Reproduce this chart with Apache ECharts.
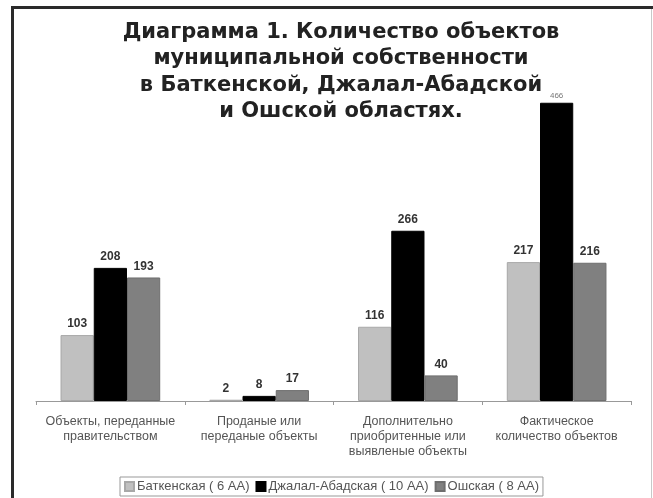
<!DOCTYPE html>
<html>
<head>
<meta charset="utf-8">
<script src="https://cdn.jsdelivr.net/npm/echarts@6/dist/echarts.min.js"></script>
<style>html,body{margin:0;padding:0;background:#fff;}#c{width:653px;height:498px;}</style>
</head>
<body>
<div id="c"></div>
<script>
var titleText = "Диаграмма 1. Количество объектов\nмуниципальной собственности\nв Баткенской, Джалал-Абадской\nи Ошской областях.";
var categories = [
  "Объекты, переданные\nправительством",
  "Проданые или\nпереданые объекты",
  "Дополнительно\nприобритенные или\nвыявленые объекты",
  "Фактическое\nколичество объектов"
];
var seriesNames = ["Баткенская ( 6 АА)", "Джалал-Абадская ( 10 АА)", "Ошская ( 8 АА)"];
var batken = [103, 2, 116, 217];
var jalalabad = [208, 8, 266, 466];
var osh = [193, 17, 40, 216];
var colors = ["#c0c0c0", "#000000", "#808080"];
var borders = ["#a8a8a8", "#000000", "#6e6e6e"];

function mkData(vals) {
  return vals.map(function (v) {
    if (v >= 400) {
      return { value: v, label: { fontSize: 8, fontWeight: 'normal', color: '#777', distance: 3 } };
    }
    return v;
  });
}
var allSeries = [batken, jalalabad, osh].map(function (vals, i) {
  return {
    name: seriesNames[i],
    type: 'bar',
    data: mkData(vals),
    barGap: '0%',
    barCategoryGap: '33%',
    itemStyle: { color: colors[i], borderColor: borders[i], borderWidth: 1 },
    label: {
      show: true, position: 'top', distance: 5,
      fontFamily: 'Liberation Sans, Arial', fontSize: 12, fontWeight: 'bold', color: '#333'
    }
  };
});

var chart = echarts.init(document.getElementById('c'), null, { renderer: 'canvas' });
chart.setOption({
  animation: false,
  backgroundColor: '#fff',
  title: {
    text: titleText,
    left: 336, top: 14, textAlign: 'center',
    textStyle: { fontFamily: 'DejaVu Sans', fontWeight: 'bold', fontSize: 21, lineHeight: 26.5, color: '#222' }
  },
  legend: {
    data: seriesNames,
    bottom: 2, left: 120,
    orient: 'horizontal',
    itemWidth: 9, itemHeight: 9, itemGap: 6,
    icon: 'rect',
    borderColor: '#999', borderWidth: 1, padding: [3, 4],
    textStyle: { fontFamily: 'Liberation Sans, Arial', fontSize: 13, color: '#555', padding: [0, 0, 0, -2] }
  },
  grid: { left: 36, right: 22, top: 81, bottom: 97 },
  xAxis: {
    type: 'category',
    data: categories,
    axisLine: { lineStyle: { color: '#999', width: 1 } },
    axisTick: { show: true, length: 4, lineStyle: { color: '#999' } },
    axisLabel: { interval: 0, margin: 13, fontFamily: 'Liberation Sans, Arial', fontSize: 12.5, lineHeight: 15, color: '#555' }
  },
  yAxis: { type: 'value', min: 0, max: 500, show: false, splitLine: { show: false } },
  series: allSeries,
  graphic: [
    { type: 'line', shape: { x1: 11, y1: 7.5, x2: 653, y2: 7.5 }, style: { stroke: '#2a2a2a', lineWidth: 3 } },
    { type: 'line', shape: { x1: 12.5, y1: 6, x2: 12.5, y2: 498 }, style: { stroke: '#2a2a2a', lineWidth: 3 } },
    { type: 'line', shape: { x1: 651.5, y1: 9, x2: 651.5, y2: 498 }, style: { stroke: '#c8c8c8', lineWidth: 1 } }
  ]
});
</script>
</body>
</html>
